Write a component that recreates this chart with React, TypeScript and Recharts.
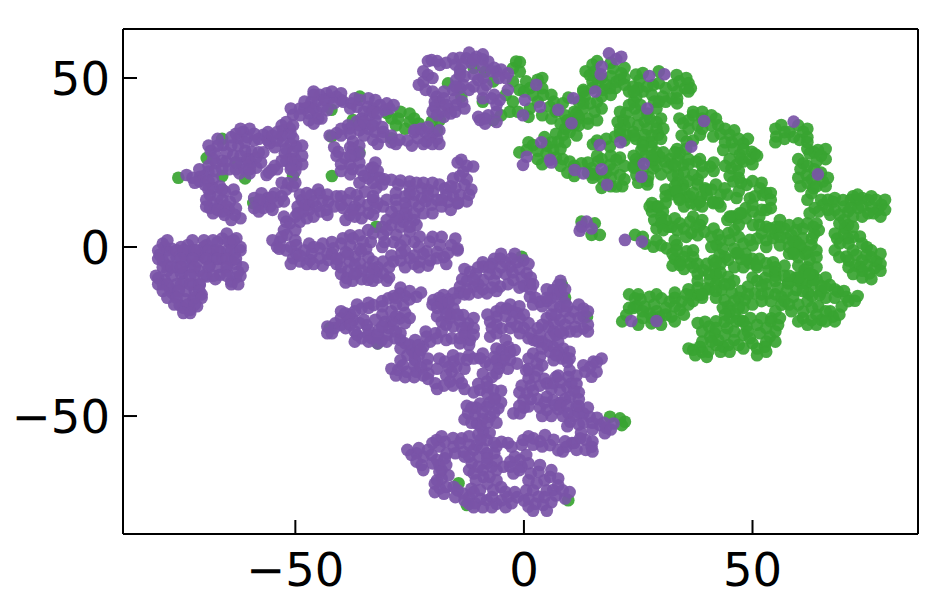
import React from "react";
import { ScatterChart, Scatter, XAxis, YAxis } from "recharts";

type P = [number, number];

const xTicks = [-50, 0, 50];
const yTicks = [-50, 0, 50];
const xDomain: P = [-87.7, 86.2];
const yDomain: P = [-84.9, 64.5];

const purpleFarLeft: P[] = [[-79,1],[-78.6,0.1],[-79.7,-2.3],[-78,-1],[-76,-3],[-79,-4],[-75,0],[-73.5,0.6],[-73,-1],[-73,-3],[-76,-6],[-73,-6],[-70,-3],[-70,0],[-69.4,0.6],[-65,4],[-62.9,2.6],[-63.2,-1.8],[-66.5,-1.3],[-70.9,-2.3],[-68.7,-5.3],[-62.5,-7.3],[-64,-10.2],[-66.5,-8.2],[-69.4,-8.7],[-72,-8.2],[-80,-9.2],[-77.5,-12.2],[-74.5,-10.2],[-72.4,-11],[-78.6,-9.8],[-76.4,-14.2],[-73,-18.6],[-72.4,-15.7],[-75.3,-17.2],[-70.9,-11.2],[-64,1],[-67,1.5],[-75,-8],[-78,-7],
[-77,-0.5],[-77.5,-3],[-74.5,-2],[-74,-4.5],[-71.5,-1],[-71.5,-4.5],[-68,-1],[-68,-3],[-66,-3.5],[-64,-4],[-66,2.5],[-64.5,1.5],[-65,-1],[-62,0],[-71,-7],[-67,-6],[-65,-7],[-63,-5],[-63,-9],[-67.5,-9.5],[-77,-8.5],[-74.5,-7.5],[-79,-11],[-76,-11],[-74,-13],[-77,-13.5],[-72,-13],[-74,-15.5],[-74.5,-18],[-71.5,-17.5],[-70.5,-14],[-78,-5.5],
[-78,2],[-72.5,2],[-70,2],[-68,2],[-63.5,2],[-80,-1],[-76,-1],[-74.5,-1],[-72,-1],[-69,-1],[-67,-1],[-64,-1],[-62,-1],[-80,-3.5],[-75,-3.5],[-72.5,-3.5],[-69.5,-3.5],[-67,-3.5],[-65,-3.5],[-63,-3.5],[-79,-6],[-77,-6],[-75,-6],[-72,-6],[-69,-6],[-65,-6],[-61.5,-6],[-80.5,-8.5],[-73,-8.5],[-70,-8.5],[-68,-8.5],[-65,-8.5],[-62,-8.5],[-80,-11],[-78,-11],[-75,-11],[-73,-11],[-71,-11],[-64,-11],[-62.5,-11],[-79,-13],[-75.5,-13],[-71,-13],[-78,-15],[-76,-15],[-72,-15],[-70.5,-15],[-76.5,-17],[-73.5,-17],[-72,-17],[-73,-19.5],[-74.5,-19.5]];
const purpleUpperLeft: P[] = [[-73.8,21.3],[-70.9,20.8],[-69,22.3],[-69.8,18.4],[-68.7,15.4],[-68.7,11.5],[-65.4,16.4],[-64.3,13.4],[-63.2,9.5],[-66.5,12.5],[-67.6,27.7],[-65.8,30.2],[-65.1,25.3],[-67.3,24.8],[-61.8,24.8],[-59.6,28.2],[-59.6,24.8],[-62.2,21.8],[-61.4,34.1],[-62.5,32.2],[-57,33.2],[-55.6,30.7],[-63.6,27.2],[-60,26],[-55.2,22.8],[-56.3,21.3],[-57.4,15.9],[-58.1,12.5],[-56.3,13.4],[-57,11.5],[-54.5,15.9],[-53.8,13.4],[-51.6,18.9],[-52.7,34.6],[-51.2,35.1],[-52.7,31.2],[-50.5,32.2],[-49.8,29.7],[-52.3,27.7],[-49.8,24.3],[-50.9,23.8],[-50.5,39.1],[-49,41],[-46.5,43],[-45.4,40],[-44.3,38],[-44.7,45],[-43.2,45.5],[-41,44.5],[-42.5,44],
[-72.5,20.5],[-71,19.5],[-70,21],[-68,20],[-68,17.5],[-67,15],[-68,13],[-66,10.5],[-64.5,11],[-66,14],[-63,15],[-65,12],[-62,8.5],[-68,10],[-66,25.5],[-68.5,28.5],[-67,30],[-65,28],[-64,30],[-63,23],[-61,23],[-64.5,23],[-60.5,26],[-58.5,26.5],[-61,28.5],[-62,27],[-58.5,23.5],[-60.5,32.5],[-59,31.5],[-58,32],[-56,31.5],[-54.5,29.5],[-62.5,30],[-60,21.8],[-55.8,22],[-56,14.5],[-59,14.5],[-57.8,14],[-55.5,12],[-55,14.8],[-52,17],[-53,19],[-50.5,18],[-51,33.5],[-53,33],[-51,30.5],[-52,29],[-50.5,28],[-51,26],[-50,26],[-52,25.5],[-48.5,24.5],[-47,41.5],[-48,41],[-46,41],[-47,39.5],[-44,41.5],[-45,43.5],[-43.5,43.5],[-40,43.5],[-46,45],[-41.5,42.5],
[-71,23],[-72,19],[-69,24],[-67.5,22.5],[-69,19.5],[-66.5,18],[-66,17],[-69,17],[-69.5,14],[-69.5,12],[-67,11],[-65.5,9.5],[-64,8],[-63,11.5],[-63.5,17],[-68,26],[-66,23],[-69,30],[-67,32],[-64,32.5],[-63,33.5],[-60,35],[-62,35],[-59,33.5],[-61,31],[-63,25],[-60,23],[-58,28],[-57.5,25],[-57,28],[-56,34],[-55,33],[-54,31.5],[-54,23],[-54.5,24],[-59,11.5],[-58,10.5],[-55,11],[-53,15],[-52.5,13.5],[-50,19],[-53,36],[-52,37],[-50.5,36],[-54,34],[-53,25.5],[-50,22.5],[-48.5,27],[-48.5,30],[-51,23],[-51,41],[-49,39],[-47,37.5],[-45,38],[-46,46],[-42,46],[-40,45.5],[-39.5,43],[-48,43],[-43,40.5],[-46,36.5]];
const purpleTopStrand: P[] = [[-37.7,42.5],[-35.9,43.5],[-34.1,41.5],[-33.7,39],[-31.5,42],[-29.4,41],[-23.9,34.6],[-21.7,34.1],[-19.9,33.6],[-21.3,31.2],[-23.2,32.2],[-41,33.7],[-38.1,35.1],[-36.6,37.1],[-34.8,36.1],[-32.6,34.1],[-33,31.7],[-30.8,34.1],[-27.2,31.7],[-37.4,31.2],[-37.4,29],[-40.6,28.2],[-39.2,26.3],[-38.1,24.3],[-35.6,22.8],[-33.4,23.3],[-34.1,20.3],
[-36.5,41.5],[-35,40],[-33,41],[-32.5,37.5],[-33,40],[-30.5,40.5],[-28.5,42],[-35.5,38],[-38.5,36],[-40,33],[-36,34.5],[-38,33.5],[-34,35],[-31,32.5],[-29,33],[-25.5,31.5],[-24,34],[-22.5,35],[-20.5,32.5],[-22,30.5],[-19,32],[-37,27],[-38,29.5],[-41,27],[-36,25],[-37.5,23],[-40,24.5],[-32.5,25],[-33,21.5],[-35,21],
[-38,41],[-37,44],[-34,44],[-32.5,43.5],[-32,39.5],[-30,42.5],[-36,36],[-40,35],[-42.5,33],[-35,33],[-35,37],[-33,36],[-31,35.5],[-32,30.5],[-29,31],[-28,30.5],[-24.5,30],[-20,30.5],[-18.5,34.5],[-21,35.5],[-18.5,30.5],[-36,30],[-36,27.5],[-38,27],[-41.5,29.5],[-40,22.5],[-38,21.5],[-32,22.5],[-36,19],[-33,23.5],[-31.5,20.5]];
const purpleMiddle: P[] = [[-32.3,17.4],[-29,19.9],[-25,19.4],[-22.4,17.4],[-19.9,16.4],[-17.3,17.4],[-15.5,20.3],[-13.7,25.8],[-11.1,23.8],[-13.3,22.3],[-13,18.4],[-14,15.4],[-14.4,13],[-16.6,13.4],[-20.2,12.5],[-22.4,14.4],[-24.2,13.4],[-25.7,11.5],[-27,19.7],[-34.8,16.4],[-38.8,13.9],[-36.6,15.4],[-34.1,12.5],[-38.1,9.5],[-35.9,11],[-30.8,12],[-27.9,12],[-32.5,11.5],[-26.4,7.5],[-29,6.5],[-30.8,3.6],[-27.9,3.6],[-25,4.6],[-22.8,3.1],[-27,6],[-34.1,5],[-20.6,1.6],[-18.4,0.6],[-15.9,0.6],[-16.6,-1.8],[-19.1,-3.3],[-22.8,-4.3],[-25,-3.3],[-26.8,-1.8],[-21.3,-1.3],[-28.6,-4.3],[-30.8,-4.3],[-30.8,-7.8],[-33,-4.3],[-35.9,-4.8],[-38.1,-4.3],[-40.3,-3.3],[-42.8,-3.8],[-44.7,-3.3],[-46.8,-3.8],[-49,-4.3],[-50.5,-3.3],[-49.8,0.6],[-44.7,-0.4],[-41.7,-0.4],[-39.6,2.6],[-37.4,2.6],[-35.2,1.6],[-35.6,-1.3],[-34.1,-9.7],[-38.8,-9.2],[-36.6,-7.8],[-32.3,-7.3],[-53.4,1.6],[-51.9,3.6],[-51.2,7],[-49,7.5],[-48.3,10.5],[-48.6,13.9],[-46.5,15.4],[-44.7,15.9],[-42.8,13.4],[-43.2,11],[-45.4,12],[-47,12.5],[-49.8,-2],
[-33,19],[-31,18.5],[-30.5,20],[-27.5,18.5],[-25,18],[-23.5,19],[-21,17],[-21,15],[-18.5,18.5],[-15.5,15],[-17,15.5],[-15,17.5],[-12.5,20],[-14,21],[-12.5,24],[-14.5,25],[-16,18],[-19,14],[-23,12],[-18,12],[-21.5,13.5],[-24,15.5],[-26,13],[-25.5,9],[-26,10],[-27.5,9],[-30,8],[-28,8.5],[-24,8],[-23.5,6.5],[-31,6],[-28.5,1.5],[-26,2],[-24,1.5],[-30,5],[-25,6],[-27,0.5],[-23,0],[-19,-1.5],[-17.5,-3],[-14.5,-1],[-20.5,-4],[-24,-5],[-27,-4],[-29,-2.5],[-32,-6],[-29.5,-6],[-34,-6],[-34,-3],[-37,-3],[-39,-1.5],[-40,1],[-42,1.5],[-44,1],[-46,0],[-43,-2],[-46.5,-2],[-47.5,-5],[-51,0],[-50,2],[-48,-1],[-38,0.5],[-36,-0.5],[-37,-5.5],[-40,-8],[-37.5,-10],[-32,-9],[-33,-6.5],[-35.5,-9.5],[-52.5,5],[-53,3],[-50,5],[-47.5,8.5],[-50,9],[-47,11],[-48,12.5],[-46,13.5],[-49.5,12],[-44,14],[-41.5,12],[-44.5,10.5],[-37,12],[-36,13.5],[-33,14],[-37.5,11],[-39.5,11.5],[-34,10],[-32,13],[-29,10.5],[-33,15],[-30,14],
[-38,16],[-40,15],[-40,12.5],[-39,8],[-37,9],[-35.5,8.5],[-33,9.5],[-28,14],[-26,15],[-28,16],[-25,16],[-22,19],[-20,19],[-18,14],[-16,11],[-12.5,13.5],[-12,15.5],[-11.5,17],[-14.5,13],[-20,10],[-22,10],[-24,10],[-30.5,1.5],[-33,4],[-33.5,1.5],[-31,0],[-26,-1],[-22,-2],[-24,-2.5],[-18,3],[-20,3],[-15,2.5],[-14.5,-0.5],[-17,-5],[-21,-5.5],[-23,-6],[-26,-6],[-29.5,-9],[-30,-10],[-34,-8],[-33,-10],[-35.5,-7],[-38.5,-7],[-40,-6],[-39,-10.5],[-37,-8],[-41,-5],[-44,-5.5],[-46,-5],[-51,-5],[-49,-2.5],[-52,-1],[-54,0],[-55,2],[-53.5,-0.5],[-47,1],[-42,-2],[-41,-3.5],[-38,3.5],[-36,3.5],[-34.5,-0.5],[-38.5,-2],[-52,7.5],[-52.5,9],[-49.5,10],[-49,15.5],[-47.5,16],[-45,17],[-43,15.5],[-41,15],[-46,9],[-43,9.5]];
const purpleTopCenter: P[] = [[-22,48.9],[-21,50.9],[-20.2,55.3],[-18.4,53.9],[-15.5,55.8],[-12.6,55.8],[-10.4,56.3],[-7.8,54.9],[-6,51.9],[-3.5,51.4],[-14,52.4],[-14.8,49.4],[-13.3,48],[-15.5,46.5],[-10,49.4],[-8.2,48],[-18.4,43],[-19.5,41.5],[-18,40],[-14.8,42],[-16.5,41],[-19.1,44.5],[-7.1,44],[-5.3,43.5],[-3.5,46.5],[-7.8,39],[-9.6,37.6],
[-21.5,46.5],[-20,50],[-19,55],[-17,54.5],[-14,56],[-11.5,54.5],[-9,55.5],[-9,53.5],[-6.5,53],[-5,52.5],[-13,50.5],[-14,47],[-11,47.5],[-9,50],[-19.5,43],[-17.5,44],[-17,42],[-13.5,43],[-16,39.5],[-17.5,38.5],[-6.5,45],[-8.5,38],[-6,40],[-15,44],
[-23,48],[-22,52],[-21,55],[-15,54],[-13.5,54],[-12,57.5],[-9,57],[-11,55.5],[-7,52],[-4,50],[-5.5,50],[-14,51],[-15,47.5],[-12,46.5],[-9,46.5],[-11,51],[-20,40],[-19,39],[-20,46],[-17.5,46],[-15,40],[-13,41],[-10,38.5],[-6,42],[-9,44],[-6,37],[-8.5,36.5]];
const purpleLowerA: P[] = [[-42,-25.5],[-41.3,-22.6],[-39.1,-19.6],[-35.5,-18.2],[-32.9,-17.2],[-29.7,-15.2],[-27.1,-13.7],[-23.5,-14.7],[-26.4,-17.2],[-27.1,-21.1],[-30.4,-22.1],[-34.4,-23.1],[-37.3,-21.6],[-35.5,-27],[-33.3,-27],[-31.1,-27.5],[-28.2,-27],[-31.8,-24.6],[-19.8,-15.7],[-17.6,-14.2],[-15.4,-13.7],[-14,-11.7],[-11.8,-7.3],[-8.9,-5.8],[-5.2,-3.4],[-2.7,-3.4],[-0.1,-3.9],[0.6,-7.8],[1.3,-10.8],[-3,-5.8],[-6,-7.8],[-8.9,-9.8],[-11,-11.7],[-8.1,-13.7],[-5.2,-11.7],[-2.3,-9.8],[1.3,-14.7],[3.5,-16.2],[6.4,-12.7],[7.5,-11.2],[8.3,-14.7],[7.9,-17.7],[10.8,-19.1],[13,-18.2],[13,-20.6],[11.2,-23.6],[13,-24.1],[7.9,-21.6],[5.3,-23.6],
[-41.5,-24],[-40,-21],[-38,-20],[-37,-19],[-34,-18],[-31,-16],[-28.5,-14.5],[-26,-14.5],[-25,-15.5],[-28,-17],[-26,-19.5],[-28,-20.5],[-29,-22],[-31,-20],[-32.5,-21.5],[-36,-22.5],[-38.5,-21],[-34,-24.5],[-36.5,-26],[-34,-26],[-30,-26],[-32,-26],[-29.5,-24],[-27,-25.5],[-18.5,-15],[-16.5,-15.5],[-14,-13.5],[-12.5,-10],[-10.5,-8],[-7,-5],[-4,-4.5],[-1.5,-4.5],[-1,-6.5],[-0.5,-9],[0,-11.5],[-4,-8],[-7.5,-8],[-6.5,-10],[-10,-11],[-9,-12.5],[-3.5,-11],[-1,-12],[-6,-13],[-12.5,-12.5],[1.5,-12.5],[2.5,-15],[5,-16],[6,-15],[7,-14],[8,-13],[6.5,-17.5],[9,-19],[9,-16.5],[10,-21],[12,-21],[9,-23],[11.5,-25],[6.5,-22.5],[6.5,-25],
[-43,-25.5],[-43,-23.5],[-40,-23],[-39,-24],[-38,-23],[-40,-19],[-36.5,-17],[-34,-16.5],[-31,-17.5],[-28,-15],[-27,-12],[-25,-13],[-22.5,-13.5],[-29,-19],[-25,-21],[-26,-22.5],[-28.5,-23],[-31,-23.5],[-35,-21.5],[-37,-25],[-37,-28],[-34,-28],[-32,-28.5],[-30,-28],[-28,-25],[-27,-27.5],[-20,-17],[-18,-17],[-15,-15.5],[-13,-14],[-13.5,-9.5],[-13,-6.5],[-10,-6],[-9,-4.5],[-6.5,-3.5],[-5,-2],[-2,-2],[1,-5],[1.5,-9],[2,-11],[-11,-9.5],[-12,-14],[-10,-13.5],[-7,-12],[-2.5,-7.5],[-7.5,-6],[-5,-6],[2,-17],[4,-17.5],[5,-15],[5,-12.5],[8,-10],[9,-12.5],[9.5,-17.5],[12,-17],[14,-19],[14,-23],[14,-25],[10,-25],[8.5,-25.5],[5,-21],[6,-20],[4,-23],[7,-20]];
const purpleLowerB: P[] = [[-17.3,-18.2],[-15.4,-18.2],[-18,-22.1],[-16.2,-21.1],[-13.3,-20.1],[-12.2,-22.6],[-12.9,-25.5],[-11.8,-27.5],[-15.8,-27],[-7.4,-22.1],[-3.8,-18.2],[-6,-20.6],[-0.9,-21.1],[-2.7,-22.1],[-7.4,-26.5],[-4.9,-24.1],[-0.9,-25.5],[2.1,-27.5],[5.7,-26.5],[6.4,-29.5],[9,-32.5],[8.6,-30],[-26,-28.5],[-23.8,-27.5],[-21.3,-26.5],[-19.4,-25.5],[-24.6,-30.5],[-22,-29.5],[-23.8,-33.4],[-27.5,-36.4],[-25.6,-36.9],[-23.5,-36.9],[-21.3,-34.9],[-20.9,-37.4],[-19.4,-40.3],[-17.3,-33.9],[-15.4,-33.9],[-15.8,-36.9],[-14.3,-38.9],[-13.6,-40.3],[-16.2,-39.8],[-12.5,-33.4],[-9.6,-32.9],[-7.4,-34.9],[-5.2,-34.4],[-3,-33.4],[-4.9,-30.5],[-3.4,-29.5],[-6,-37.4],[-8.1,-39.8],[-9.6,-42.3],[-6.7,-42.3],[-6.3,-44.8],[-9.6,-46.3],[-12.2,-49.2],[-8.1,-47.2],[-5.6,-47.7],[-7.4,-50.2],[-10.3,-52.2],[-10.7,-49.7],[-8.9,-54.6],
[-16.5,-16.5],[-16,-19.8],[-17,-20],[-14.5,-20],[-14,-22],[-13.5,-24],[-12.5,-24],[-14,-27],[-13,-26.5],[-6,-19],[-5,-18],[-2.5,-19],[-1.5,-19.5],[-6,-23],[-3,-24],[-6,-25.5],[-1.5,-23.5],[0,-24],[1.5,-25.5],[3.5,-26],[4,-28],[5,-29],[7.5,-31],[7.5,-28],[-25,-29],[-23,-29],[-20.5,-28],[-24,-31.5],[-23,-32],[-26.5,-35],[-24,-35],[-22.5,-35.5],[-22,-38],[-16.5,-35.5],[-17,-38],[-14.8,-35.5],[-15.5,-41],[-14,-33],[-11,-33],[-8.5,-34],[-6,-33.5],[-4,-32],[-4.5,-33.5],[-3,-31],[-5.5,-36],[-7,-38.5],[-8,-41.5],[-8,-43.5],[-7.5,-46],[-10.5,-47.5],[-9,-49],[-11.5,-47.5],[-9,-51],[-9.5,-53],[-8,-52],[-6.5,-49],
[-18,-16.5],[-19,-18],[-19,-20.5],[-17,-23],[-15.5,-23.5],[-11,-21],[-11,-24],[-11,-26],[-12,-29],[-14,-28.5],[-17,-27.5],[-8,-20],[-7,-24],[-4,-20.5],[-3,-17],[-1,-17.5],[0,-20],[1,-22.5],[3,-24],[1,-27],[3,-28],[7,-26],[8,-25],[10,-31],[9.5,-34],[-27,-30],[-21.5,-25],[-19,-27],[-18,-25],[-25.5,-32],[-22.5,-30.5],[-27,-33.5],[-29,-36],[-28,-38],[-26,-38.5],[-24,-38.5],[-21,-33],[-19,-36],[-21,-39],[-19,-42],[-17.5,-41],[-13,-42],[-13,-36],[-18.5,-33],[-15.5,-32],[-12,-32],[-9,-31.5],[-6.5,-32.5],[-3.5,-36],[-1.5,-34.5],[-2,-30.5],[-6,-30],[-4,-27.5],[-9,-37.5],[-10,-40.5],[-11,-43],[-5,-42.5],[-5,-46],[-12.5,-47],[-13,-51],[-11.5,-52],[-6,-52],[-6.5,-45],[-10,-55.5],[-7.5,-55]];
const purpleLowerC: P[] = [[2,-31.5],[2.8,-34.4],[5.7,-31],[8.3,-33],[2.4,-38.4],[1,-38.9],[0.6,-43.3],[-0.1,-45.3],[1,-47.2],[-2.3,-49.2],[-0.9,-49.2],[5,-40.3],[6.4,-40.3],[9.7,-38.4],[10.4,-40.3],[7.9,-42.3],[5,-44.3],[10.1,-44.3],[6.4,-45.3],[5,-48.2],[6.8,-46.8],[15.2,-33.9],[13.4,-36.9],[14.8,-38.4],[15.9,-36.9],[9.7,-49.2],[11.5,-47.2],[10.1,-51.7],[13,-49.2],[14.4,-50.2],[16.6,-52.7],[19.6,-52.2],[17.7,-55.1],[-0.1,-57.1],[2.1,-56.6],[4.6,-55.6],[5.7,-58.6],[7.5,-60.1],[9.3,-59.1],[12.3,-56.6],[14.8,-59.1],
[3.5,-32.5],[4,-35],[6.5,-33.5],[3,-36.5],[4.5,-39],[1.5,-41],[2,-42.5],[1.5,-45],[3,-45],[0,-47.5],[-1,-47],[7,-38.5],[8,-40],[9.5,-41.5],[9,-45],[8,-46],[11,-42.5],[3.5,-47.5],[4.5,-46],[7.5,-48],[8.5,-50],[8,-47],[12,-45],[11,-50],[13,-52],[15,-52],[17.5,-52],[18,-53.5],[12,-49],[14.5,-35.5],[1,-56],[3.5,-57.5],[6.5,-57],[10.5,-58],[13.5,-57],[11,-58],[8.5,-60.5],[13.5,-60],[15,-57.5],
[1,-33],[4,-30],[7,-32],[10,-33],[1,-36],[0.5,-36.5],[-0.5,-41],[-1,-43],[3.5,-41],[6,-42],[7.5,-38],[10,-36.5],[11.5,-38],[11.5,-40.5],[12,-43],[12,-47],[6,-50],[4,-50],[9.5,-47],[14,-47.5],[9.5,-53],[12,-52.5],[15,-54],[16,-50.5],[19,-54],[16,-34],[17,-33],[13,-35],[-0.5,-58.5],[2,-58.5],[4,-59],[9,-57.5],[11.5,-60],[15,-60.5],[12.5,-55]];
const purpleBottom: P[] = [[-23.5,-61],[-24.6,-61.5],[-22.4,-64.5],[-20.2,-61.5],[-19.1,-57.1],[-17.3,-57.6],[-13.6,-56.6],[-15.4,-59.1],[-16.9,-61],[-18,-66],[-17.3,-62.5],[-13.2,-60.6],[-11,-60],[-10.3,-58.6],[-8.1,-57.1],[-4.9,-57.6],[-2.7,-59.1],[-8.1,-61],[-11.4,-64],[-8.1,-64],[-8.9,-68],[-4.5,-65],[-0.9,-63],[-0.5,-65],[-2.3,-67],[3.2,-66.5],[5.7,-68],[2.8,-69.9],[6.4,-71.9],[9,-74.4],[3.2,-73.9],[1,-76.8],[4.2,-76.3],[-18.4,-71.4],[-15.4,-70.9],[-13.3,-72.9],[-10.7,-75.8],[-8.1,-74.9],[-9.6,-71.9],[-6.7,-71.9],[-4.9,-74.9],[-2.7,-75.8],[-4.1,-72.4],[-16.5,-67.5],[5,-72],
[-22,-62],[-21,-60],[-23.5,-63.5],[-18.5,-59],[-15.5,-56.5],[-14,-58],[-19,-63],[-18.5,-64.5],[-15,-61],[-12,-58.5],[-17,-64.5],[-9,-59.5],[-6.5,-58],[-3.5,-58],[-6,-59],[-10,-62],[-12,-62],[-9,-66],[-10,-65],[-7,-65],[-7.5,-68],[-10.5,-69],[-3,-65],[-1,-66],[1,-64],[1.5,-67],[-3,-63.5],[4.5,-69],[2,-72],[4.5,-74],[7,-73.5],[7.5,-70.5],[1,-74.5],[2.5,-76],[6,-75.5],[-17,-71],[-14.5,-72],[-12,-74],[-11.5,-71.5],[-8,-70],[-7,-74],[-9.5,-74.5],[-5,-71],[-12,-76],[-6,-76],[-3.5,-74],[-18,-68.5],[-19,-69],
[-25.5,-60],[-23,-59.5],[-22,-66],[-20,-64],[-20,-58],[-18,-56],[-12,-56],[-13,-62],[-9.5,-57],[-6.5,-61],[-8,-62.5],[-12,-66],[-11,-67],[-6,-66],[-6,-63],[-6,-69],[-11,-72.5],[-2,-62],[0.5,-61.5],[1,-69],[3.5,-64.5],[6,-66],[7.5,-68.5],[8.5,-72],[10,-72.5],[0.5,-72],[5,-78],[2,-78],[0,-75],[-19.5,-70],[-19.5,-72.5],[-17.5,-73],[-15,-74],[-13,-75],[-9,-77],[-11,-77],[-7,-77],[-4,-77],[-1.5,-74],[-2,-72.5],[-18.5,-66.5]];
const purpleInGreen: P[] = [[2.7,48],[0.2,43.5],[3.5,41.5],[-0.2,39],[7.5,40.6],[10.4,36.6],[3.8,31],[0.6,26.7],[-0.2,24.3],[5.7,25.8],[6,25],[11.1,22.8],[13,21.8],[17,23],[18.2,18.4],[16.6,30.2],[21.1,31],[10.8,44],[15.6,46],[18.6,57.3],[20.2,55.6],[21.3,56.3],[17,53.4],[16.8,51.1],[27.4,50.6],[30.7,51.1],[27,41],[26.2,24.6],[25.7,20.8],[39.4,37.3],[36.6,29.7],[59,37.1],[64.3,21.5],[12.6,6],[13.7,7.5],[14.8,5.5],[12.2,4.8],[22.1,2.1],[25.8,1.6],[23.5,-21.9],[29,-21.9]];

const greenEdges: P[] = [[-75.6,20.5],[-66,32],[-63,25],[-69.4,26.3],[-66,21],[-61,20.3],[-59.2,13],[-50.5,21],[-42.1,40.6],[-35.9,44.5],[-27.5,38],[-25,37],[-26,35],[-30,39.6],[-28,36],[-24,38],[-29,38],[-23,36.5],[-27,40],[-25,39.5],[-19,34.5],[-42.1,32.7],[-37.4,37.6],[-29,32.2],[-36,28],[-32.3,6],[-42,21],[-16.6,48.4],[-13.7,44.5],[-18.4,37.6],[-20.2,37.1],[-11,53],[-8.5,51.9],[-6.7,49],[-9,43],[-5,39],[-2.4,52.9],[-1.7,54.9],[-2.4,49],[-2.4,43],[-3.1,40],[-6.7,37.6],[-1.3,40],[-4,45],[-0.9,54.7],[-0.9,51.9],[-0.5,-2.9],[8.3,-11.2],[9,-15],[13.8,-20.6],[18.8,-50.2],[21,-50.7],[22.1,-51.7],[21.4,-52.7],[-12.5,-76.3],[-14.3,-69.9],[9.7,-74.9],[-42.5,-24],[-32,-28.5]];
const greenUpper: P[] = [[2,45],[1.3,47],[4.2,45],[1.3,41],[5.7,41.5],[9,39],[8.6,33.2],[7.5,31.2],[2,30.2],[6.4,28.7],[4.9,27.7],[0.6,28.7],[10,25.3],[12.6,24.8],[14.8,23.3],[16.2,25.3],[20.2,25.8],[21,21.3],[20.2,17.9],[18.8,24.3],[17.3,19.9],[15.1,30.4],[18.8,29.7],[19.9,32.7],[9.7,44.2],[13.3,44.5],[13,41],[15.5,40],[14,38],[11.5,39.6],[14.4,50.9],[17.3,46.5],[20.2,48.9],[21.3,51.4],[19.5,52.9],[16.2,48.9],[18.8,47],[23.9,47.5],[25.3,49.4],[28.3,47.9],[24.6,44.5],[33.4,50.9],[35.2,47],[32.6,47.9],[32.3,44],[30.4,44.5],[22.4,39.6],[24.3,41],[29,41],[21.7,37.6],[23.9,34.1],[26.4,37.1],[29,35.1],[29.4,33.2],[26.4,33.2],[22.4,33.2],[27.9,29.7],[25.7,28.7],[25.3,25.3],[28.3,23.3],[30.8,25.3],[29.7,26.7],[27.9,25.3],[24.6,21.3],[27.2,20.8],
[3,43],[0,46],[4,47],[7,40],[6.5,43],[9.5,37.5],[9,35],[7,33.5],[10,34],[9,31],[5,30],[3,28.5],[7,26.5],[8.5,26],[11,24],[14,25],[18,22],[19,20.5],[19.5,23],[16,21.5],[15,20.5],[19,18],[17,26],[14,22],[11,40],[13,42.5],[14.5,42.5],[12,38],[14,36.5],[13,46],[15,49],[17,50],[15.5,52],[19,50.5],[21,49.5],[18,48],[20,47],[22,53],[25,47],[26,46],[27,47.5],[29.5,48.5],[24,43],[25.5,42],[34,49],[31,47],[29.5,43],[33.5,46],[36,48.5],[33.5,44],[23,37],[22,36],[25,39],[27.5,38],[25,36],[27,35],[28,33],[24.5,32],[29,37],[26,31],[28,31],[24,33],[29,28],[26.5,27],[24.5,26],[24,23.5],[26,22.5],[29,24],[31.5,23.5],[27,19.5],[28.5,26],
[4,50],[0.5,49],[3,49.5],[-1,46.5],[6,45],[1,38.5],[4,39],[6,38],[8,36.5],[11,36],[11.5,33],[12,38.5],[6,31],[4.5,32.5],[1,31],[-1,28],[3,26],[4,24.5],[8,24],[9.5,22],[11,21],[15,21.5],[17,17.5],[21.5,18],[22,20],[22,24],[21,26.5],[19,27],[16,27],[8,29],[16,31.5],[18,32],[21,33.5],[13,46.5],[12,43],[8.5,42.5],[16,43],[16,37.5],[17,41],[12,36],[13.5,52],[15,54],[16,55],[19,54.5],[22,50],[22,48],[15,47],[19,45],[17,44.5],[24.5,51],[26,51.5],[23,46],[29.5,52],[28,45],[24,46],[36,46],[36.5,47],[33.5,42.5],[31,43],[28.5,43],[35.5,50],[21,40],[21,35],[20.5,37],[23,42],[27,39.5],[30,38],[30.5,35],[30,32],[22,31.5],[26,30],[28,27],[24,27],[24,24],[30.5,28],[32,26],[30,21.5],[25,19],[27,18.5],[32.5,24.5]];
const greenBlock: P[] = [[37,39],[34.8,36.6],[41,39],[42.5,36],[38.5,33.2],[41.4,32.7],[45,33.2],[43.6,28.7],[48,30.7],[49.8,28.2],[47.2,27.3],[46.5,24.3],[45.4,23.3],[48,25.3],[35.6,31.2],[34.1,27.7],[34.8,24.3],[37.7,25.3],[40.7,23.8],[33.7,21.3],[37,21.3],[34.8,18.4],[33,16.4],[35.6,14.9],[37.7,12.5],[39.6,17.4],[38.8,14.9],[41.4,13.4],[43.9,17.4],[45.8,19.4],[48.7,18.4],[51.6,17.4],[52.3,15.4],[49.4,14.4],[29,12],[30.4,10.5],[30.1,7],[33,8.5],[34.1,7],[36.3,7.5],[37.7,6],[36.6,4.1],[32.3,6],[45.8,9],[47.6,10],[50.1,10.5],[53,11],[50.1,6.5],[52,4],[55.2,6],[57,5.5],[54.5,2.6],[49.4,2.1],[57.4,2.6],[59.6,1.6],[61,5.5],[63.3,6],[61,2.6],[62.9,0.6],[60.7,-0.4],[12.6,7.5],[14.8,3.6],[16.6,3.6],[15.5,7],[24.3,3.6],[28.3,0.1],[31.2,-0.4],[33.4,0.6],[35.6,-1.3],[34.1,-4.3],[36.3,-4.8],[42.5,3.6],[42.1,0.6],[44.7,4.1],[42.8,-2.3],[44.7,-3.8],[46.5,-1.8],[49.4,-4.8],[53,-4.8],[54.9,-7.3],[62.5,-3.8],[61.4,-7.8],[63.2,-8.3],[61.8,-10.7],[57.8,-10.7],[66.9,-11.2],
[36,37.5],[38,36],[36,35],[39,35],[41,36],[43,33.5],[44,31],[45.5,31],[46,29],[48,29],[47.5,26],[49.5,26],[50.5,27.5],[47,22.5],[37,31.5],[33.5,29],[35.5,29],[33.8,26],[36,24.5],[35,22],[39,24],[41.5,22.5],[36,19.5],[33.5,19],[34,14.5],[32,15.5],[36.5,13],[35,17],[40,15.5],[43,15.5],[42.5,13],[44.5,15.5],[47,16.5],[46.5,14.5],[47.5,19],[50,19.5],[50.5,15],[53,16],[31,13],[28,10.5],[30,9],[28.5,8],[31.5,6],[35,5.5],[38.5,6.5],[38,3.5],[33.5,5],[46.5,8.5],[48.5,11.5],[51.5,9],[52,11],[48.5,8.5],[51.5,6.5],[53,6],[55,4],[53,2],[51,2.5],[48,1],[56,3],[56,0.5],[58.5,3.5],[59.5,5],[60,7],[62,7],[63.5,4],[63,2.5],[59,-1],[61.5,-2],[26.5,1],[30,0.5],[32.5,-2],[35,-3],[37,-3],[33,-3.5],[37,-6],[35,-6.5],[43,2],[41.5,5.5],[45,2],[43.5,-0.5],[44,-3],[47.5,-3.5],[50,-3.5],[51.5,-3.5],[54.5,-4.5],[53.5,-7],[46,-6],[55,-8.5],[62,-6],[60,-5.5],[62,-1.5],[63,-11],[59.5,-9],[65,-11.5],[60,-10],
[37,40],[39,40],[42,38],[34,38],[39,38],[44,35],[46,34.5],[47,32],[49,32],[51,27],[50,24.5],[44,24],[45,26],[34.5,33],[33,28],[33,24],[36,26],[38.5,26],[41.5,25],[32.5,21],[38,20],[39,22],[33,18],[31,17],[31,15],[35,12],[39,12],[43,12],[38,18.5],[42,18.5],[45,21],[47,20.5],[52,19],[54,16],[54,14],[50,12.5],[27.5,12],[28,13],[29,5.5],[31,8],[37,9],[39,8],[39.5,4.5],[35.5,3],[47,6.5],[44.5,8],[54,11.5],[56,8],[56,6],[58,6.5],[50,0.5],[47,3],[53,0],[58,0],[58,-2],[64.5,5],[64,7],[64,-1],[60,-3],[26,3],[29,2],[33,2],[37,-1],[38,-5],[32.5,-5.5],[41,3],[41,0],[46,5],[46,-0.5],[41.5,-4],[43,-5],[48,-6],[51,-6],[55,-6],[57,-8.5],[48.5,-2],[57,-5.5],[64,-6],[64,-3],[66,-9],[68,-12.5],[64,-9.5]];
const greenRight: P[] = [[56.3,36.1],[55.2,32.7],[58.1,34.1],[61.1,34.1],[60.3,31.7],[64.3,28.7],[62.5,27.7],[61.1,24.8],[64,25.3],[61.8,21.3],[65.4,19.4],[63.3,17.4],[62.9,15.9],[63.6,11.5],[65.4,12.5],[67.6,13.4],[69.8,13.9],[68,11],[72.7,13.9],[75.3,13.9],[73.1,11.5],[75.3,10],[77.5,11],[78.2,12.5],[70.9,10.5],[70.9,6.5],[70.2,5.6],[70.9,2.6],[73.5,3.1],[69.1,1.1],[70.5,-2.8],[72.7,-2.3],[74.9,-2.3],[77.1,-4.3],[73.5,-5.8],[75.6,-7.8],[76.7,-6.3],
[57,34],[59,32.5],[57,32],[62,32.5],[63.5,28],[62,29],[63.5,23],[60.5,23],[62,19],[63,20],[65,22],[62,24],[64,18],[65,14],[66.5,14],[64.5,10.5],[66.5,11],[68,14.5],[70,12],[71.5,14],[71.5,11.5],[74,14.5],[76,12],[74,12],[76.5,10],[72,9],[70,8],[70,4],[72,3],[68.5,2.5],[71,1],[75,0],[72,-1],[71,-4],[74,-4],[76,-3],[72.5,-5.5],[75,-5.5],[74,-7],
[55,35],[55,31],[60,36],[62,35],[62,31],[66,29],[65,27],[60,26],[66,26],[60,20.5],[60.5,18],[66,18],[66.5,20.5],[62,14],[62.5,10],[67,9.5],[69,9.5],[72,15],[73,15.5],[76,15],[77,14],[79,14],[79,11],[74,9],[78,9],[69,7],[72,6],[68,4],[74,1],[68,-1],[69,-3],[71,-6],[76,-1],[78,-2],[78,-5],[78,-7],[74,-9],[76,-9.5],[72,-8]];
const greenLower: P[] = [[24.3,-15.2],[27.5,-14.7],[30.1,-15.2],[31.9,-16.1],[34.5,-16.1],[34.1,-18.6],[32.3,-20.6],[29.7,-20.6],[27.5,-19.6],[26.4,-17.6],[24.6,-17.5],[22.4,-20.1],[27.9,-22.6],[38.1,-14.2],[36.6,-14.2],[39.6,-22.1],[39.2,-6.8],[41.7,-6.3],[40.7,-9.7],[44.7,-8.8],[42.5,-9.5],[39.9,-12.2],[43.2,-12.7],[43.9,-15.7],[44.7,-17.6],[46.9,-1.9],[48.7,-3.8],[50.9,-5.3],[52.7,-9.2],[49,-11.7],[50.5,-13.7],[53.4,-13.7],[48.3,-15.7],[56.3,-14.7],[56.3,-17.1],[57.8,-10.7],[59.6,-12.7],[58.9,-14.7],[61.4,-6.8],[60.7,-10.7],[63.3,-9.7],[62.2,-13.7],[64.7,-14.2],[68.7,-13.2],[70.5,-14.7],[72.4,-15.9],[69.5,-17.6],[67.6,-20.6],[61.1,-19.1],[62.9,-21.6],[65.1,-21.6],[64.4,-17.6],[46.1,-19.6],[43.9,-22.1],[41.7,-25.5],[40.7,-26.5],[37,-30.4],[38.5,-29.5],[40.3,-31],[43.6,-29.5],[42.5,-27.5],[44.7,-29],[47.2,-21.6],[48.7,-23.5],[49.4,-27],[51.6,-25.5],[52.7,-29.5],[53.8,-26.5],[54.1,-21.1],[55.6,-23.1],[29.4,12],[30.1,7],[33.4,16.4],[36.3,14.9],[39.9,16.9],[38.5,13.4],[41.4,13],[33.4,-0.9],[34.1,-5.3],[45.4,9],[47.2,10],[53.8,5.5],[58.9,1.6],[60.3,0.6],
[24,-18],[25.5,-15.5],[26,-19],[28.5,-17],[29,-19],[31,-18],[33,-17.5],[33,-15],[31,-20],[28,-21],[26,-21],[37,-16],[38,-22.5],[40.5,-23.5],[40.5,-8],[38,-8],[42,-8],[43,-7.5],[42,-11],[40.5,-12.5],[42,-13],[44,-11],[45.5,-13.5],[42,-15],[43.5,-18],[51,-10],[47.5,-13],[47,-15],[49,-14],[52,-14],[53,-11],[50,-9],[55,-14],[54,-16],[55.5,-12],[57.5,-13],[57,-16],[58,-17],[60,-9],[61,-13],[62.5,-8],[63,-14.5],[62,-16],[66,-15],[68,-15],[67,-19],[70,-13],[64,-20],[66,-19],[61,-21],[60,-17],[45,-21],[46.5,-22],[44.5,-24],[44,-26],[42,-29],[39,-31],[36,-30],[41,-28],[46,-27.5],[48,-22],[49,-25],[50,-28.5],[51,-30],[51,-23],[53,-24],[53,-28],[54,-22],[42,-22],[34,14],[37,16],[41,17],[45,9],[30.5,5],[59,-2],[38,-12],[36,-12.5],
[23,-14],[25,-14],[29,-14],[33,-13.5],[35.5,-14],[36,-17],[35,-20],[33,-22],[30,-23],[25,-23],[23,-18],[21.5,-22],[39,-15],[40,-5],[42,-4.5],[38,-10],[39,-14],[45,-11],[46,-10],[46,-16],[45,-19],[47,-18],[48,-18],[52,-11.5],[55,-10],[52,-16],[50,-17],[55,-19],[58.5,-19],[58,-8.5],[65,-13],[66,-12],[63,-18],[60,-22],[62,-23],[64,-23],[68,-22],[69,-20],[71,-16],[73,-14.5],[66,-22],[44,-20],[42,-24],[39,-25],[39,-28],[37.5,-32],[40,-32.5],[43,-31],[45,-31],[47,-29],[48,-30],[48,-26],[51,-32],[53,-31],[55,-28],[55,-25],[56,-21],[46,-25],[52,-21],[49.5,-21]];

const greenPoints = [...greenEdges, ...greenUpper, ...greenBlock, ...greenRight, ...greenLower].map(([x, y]) => ({ x, y }));
const purplePoints = [...purpleFarLeft, ...purpleUpperLeft, ...purpleTopStrand, ...purpleMiddle, ...purpleTopCenter, ...purpleLowerA, ...purpleLowerB, ...purpleLowerC, ...purpleBottom, ...purpleInGreen].map(([x, y]) => ({ x, y }));

const FONT = "DejaVu Sans";
const fmt = (v: number) => (v < 0 ? "\u2212" + Math.abs(v) : String(v));

const XTick = (p: any) => (
  <g>
    <line x1={p.x} x2={p.x} y1={534} y2={520} stroke="#000" strokeWidth={2} />
    <text x={p.x} y={586} textAnchor="middle" fontFamily={FONT} fontSize={46.5} fill="#000">{fmt(p.payload.value)}</text>
  </g>
);
const YTick = (p: any) => (
  <g>
    <line x1={123} x2={137} y1={p.y} y2={p.y} stroke="#000" strokeWidth={2} />
    <text x={110} y={p.y + 17} textAnchor="end" fontFamily={FONT} fontSize={46.5} fill="#000">{fmt(p.payload.value)}</text>
  </g>
);
const dot = (fill: string) => (p: any) => <circle cx={p.cx} cy={p.cy} r={6.3} fill={fill} fillOpacity={0.92} />;

export default function App() {
  return (
    <div style={{ position: "absolute", left: 0, top: 0, width: 947, height: 603 }}>
      <ScatterChart width={947} height={603} margin={{ left: 122, top: 28, right: 28, bottom: 68 }}>
        <XAxis xAxisId="b" dataKey="x" type="number" domain={xDomain} ticks={xTicks} height={1} tickSize={0} tickLine={false} tick={XTick} interval={0} allowDataOverflow axisLine={{ stroke: "#000", strokeWidth: 2 }} />
        <XAxis xAxisId="t" orientation="top" dataKey="x" type="number" domain={xDomain} height={1} tick={false} tickLine={false} axisLine={{ stroke: "#000", strokeWidth: 2 }} />
        <YAxis yAxisId="l" dataKey="y" type="number" domain={yDomain} ticks={yTicks} width={1} tickSize={0} tickLine={false} tick={YTick} interval={0} allowDataOverflow axisLine={{ stroke: "#000", strokeWidth: 2 }} />
        <YAxis yAxisId="r" orientation="right" dataKey="y" type="number" domain={yDomain} width={1} tick={false} tickLine={false} axisLine={{ stroke: "#000", strokeWidth: 2 }} />
        <Scatter xAxisId="b" yAxisId="l" data={greenPoints} isAnimationActive={false} shape={dot("#38a431")} />
        <Scatter xAxisId="b" yAxisId="l" data={purplePoints} isAnimationActive={false} shape={dot("#7a54a7")} />
      </ScatterChart>
    </div>
  );
}
